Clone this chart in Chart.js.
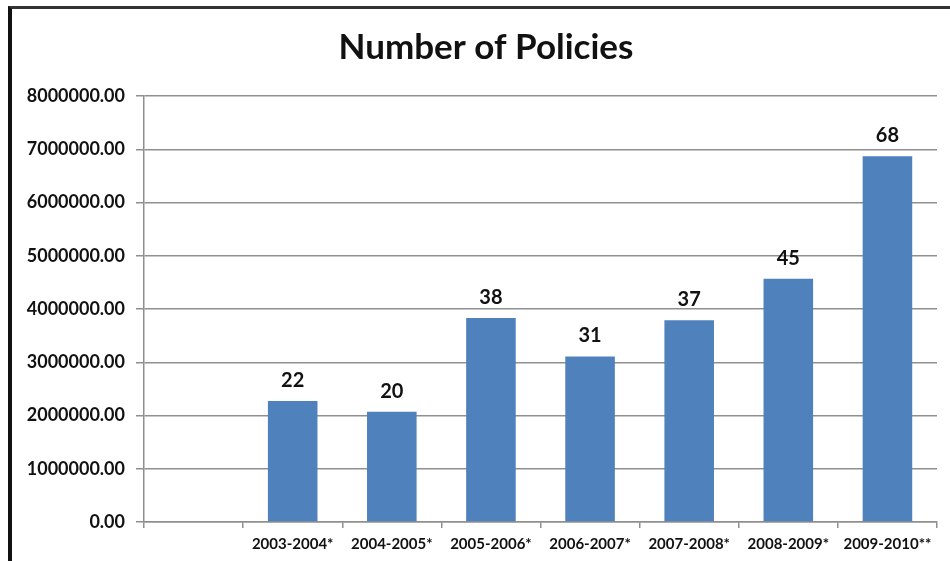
<!DOCTYPE html>
<html>
<head>
<meta charset="utf-8">
<script src="https://cdn.jsdelivr.net/npm/chart.js@4/dist/chart.umd.min.js"></script>
<style>
  html, body { margin: 0; padding: 0; background: #fff; }
  #wrap { position: relative; width: 950px; height: 561px; overflow: hidden; }
  #frame { position: absolute; left: 8px; top: 6px; width: 960px; height: 600px;
           border-left: 4px solid #111; border-top: 3px solid #333; pointer-events: none; }
  canvas { position: absolute; left: 0; top: 0; }
</style>
</head>
<body>
<div id="wrap">
  <canvas id="chart" width="950" height="561"></canvas>
  <div id="frame"></div>
</div>
<script>
// categories (first slot is empty in the original)
const categories = ["", "2003-2004*", "2004-2005*", "2005-2006*", "2006-2007*", "2007-2008*", "2008-2009*", "2009-2010**"];
// bar heights
const policies = [null, 2270000, 2070000, 3830000, 3110000, 3790000, 4570000, 6870000];
// numbers printed above the bars
const barLabels = ["", "22", "20", "38", "31", "37", "45", "68"];
const yTicks = [0, 1000000, 2000000, 3000000, 4000000, 5000000, 6000000, 7000000, 8000000];
const chartTitle = "Number of Policies";

const FONT = "Lato, 'Open Sans', 'DejaVu Sans', sans-serif";
const GRID = "#8f8f8f";

const labelPlugin = {
  id: "barLabels",
  afterDatasetsDraw(chart) {
    const ctx = chart.ctx;
    const meta = chart.getDatasetMeta(0);
    ctx.save();
    ctx.font = "bold 20px " + FONT;
    ctx.fillStyle = "#111";
    ctx.textAlign = "center";
    ctx.textBaseline = "alphabetic";
    meta.data.forEach((bar, i) => {
      if (!barLabels[i] || policies[i] == null) return;
      ctx.fillText(barLabels[i], bar.x, bar.y - 14);
    });
    ctx.restore();
  }
};

// title sits a bit right of the canvas centre in the original, so draw it here
const titlePlugin = {
  id: "offsetTitle",
  afterDraw(chart) {
    const ctx = chart.ctx;
    ctx.save();
    ctx.font = "bold 35px " + FONT;
    ctx.fillStyle = "#111";
    ctx.textAlign = "center";
    ctx.textBaseline = "middle";
    ctx.fillText(chartTitle, 486, 48);
    ctx.restore();
  }
};

new Chart(document.getElementById("chart"), {
  type: "bar",
  data: {
    labels: categories,
    datasets: [{
      label: chartTitle,
      data: policies,
      backgroundColor: "#4f81bd",
      borderWidth: 0,
      barPercentage: 0.5,
      categoryPercentage: 1.0
    }]
  },
  options: {
    responsive: false,
    animation: false,
    layout: { padding: { left: 0, right: 13, top: 96, bottom: 0 } },
    plugins: {
      legend: { display: false },
      tooltip: { enabled: false },
      title: { display: false }
    },
    scales: {
      x: {
        grid: { display: true, offset: true, drawOnChartArea: false, color: GRID, lineWidth: 1.5, tickLength: 6 },
        border: { color: GRID, width: 1.5 },
        ticks: { color: "#111", font: { family: FONT, size: 15, weight: "bold" }, padding: 7, maxRotation: 0, autoSkip: false },
        afterFit(scale) { scale.height = 39; }
      },
      y: {
        min: 0,
        max: 8000000,
        afterBuildTicks(scale) { scale.ticks = yTicks.map(v => ({ value: v })); },
        grid: { color: GRID, lineWidth: 1.5, tickLength: 8 },
        border: { color: GRID, width: 1.5 },
        ticks: {
          color: "#111",
          font: { family: FONT, size: 18, weight: "bold" },
          padding: 11,
          callback: v => Number(v).toFixed(2)
        },
        afterFit(scale) { scale.width = 144; }
      }
    }
  },
  plugins: [labelPlugin, titlePlugin]
});
</script>
</body>
</html>
